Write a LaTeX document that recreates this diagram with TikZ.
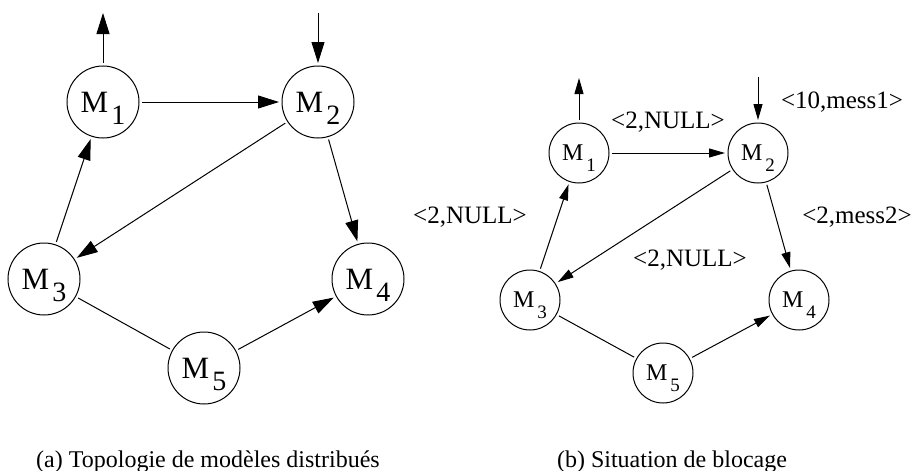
\documentclass[tikz,border=0pt]{standalone}
\usepackage{fontspec}
\setmainfont{Liberation Serif}
\usetikzlibrary{arrows.meta,positioning}

\newcommand{\mgrand}[1]{M\hspace{1.5pt}\raisebox{-6pt}[0pt][0pt]{\fontsize{14}{14}\selectfont #1}}
\newcommand{\mpetit}[1]{M\hspace{1.5pt}\raisebox{-5.5pt}[0pt][0pt]{\fontsize{9.5}{10}\selectfont #1}}

\begin{document}
\begin{tikzpicture}[x=0.5pt, y=-0.5pt, line width=0.5pt,
    grand/.style={draw, circle, minimum size=36pt, inner sep=0pt, outer sep=1.5pt, font=\fontsize{15.5}{16}\selectfont},
    petit/.style={draw, circle, minimum size=30pt, inner sep=0pt, outer sep=1.5pt, font=\fontsize{12}{13}\selectfont},
    fleche/.style={-{Triangle[length=10.5pt, width=6.5pt]}},
    pfleche/.style={-{Triangle[length=8pt, width=4.5pt]}},
    msg/.style={font=\fontsize{12.5}{14}\selectfont},
    legende/.style={anchor=base, font=\fontsize{12}{14}\selectfont}
]
\useasboundingbox (0,0) rectangle (911,471);

% (a) topologie
\node[grand] (a1) at (103,102) {\mgrand{1}};
\node[grand] (a2) at (318,102) {\mgrand{2}};
\node[grand] (a3) at (44,279) {\mgrand{3}};
\node[grand] (a4) at (368,279) {\mgrand{4}};
\node[grand] (a5) at (204,368) {\mgrand{5}};
\coordinate (a1out) at (103,13);
\coordinate (a2in) at (318,13);

\draw[fleche] (a1) -- (a1out);
\draw[fleche] (a2in) -- (a2);
\draw[fleche] (a1) -- (a2);
\draw[fleche] (a2) -- (a3);
\draw[fleche] (a2) -- (a4);
\draw[fleche] (a3) -- (a1);
\draw (a3) -- (a5);
\draw[fleche] (a5) -- (a4);

\node[legende] (capa) at (208,467) {(a) Topologie de modèles distribués};

% (b) blocage
\node[petit] (b1) at (579,153) {\mpetit{1}};
\node[petit] (b2) at (758,153) {\mpetit{2}};
\node[petit] (b3) at (530,300) {\mpetit{3}};
\node[petit] (b4) at (799,300) {\mpetit{4}};
\node[petit] (b5) at (663,373) {\mpetit{5}};
\coordinate (b1out) at (579,78);
\coordinate (b2in) at (758,77);

\draw[pfleche] (b1) -- (b1out);
\draw[pfleche] (b2in) -- (b2);
\draw[pfleche] (b1) -- (b2);
\draw[pfleche] (b2) -- (b3);
\draw[pfleche] (b2) -- (b4);
\draw[pfleche] (b3) -- (b1);
\draw (b3) -- (b5);
\draw[pfleche] (b5) -- (b4);

% messages
\node[msg] (m21) at (842,102) {<10,mess1>};
\node[msg] (m12) at (668,122) {<2,NULL>};
\node[msg] (m31) at (470,217) {<2,NULL>};
\node[msg] (m24) at (857,217) {<2,mess2>};
\node[msg] (m23) at (690,260) {<2,NULL>};

\node[legende] (capb) at (672,467) {(b) Situation de blocage};

\end{tikzpicture}
\end{document}
